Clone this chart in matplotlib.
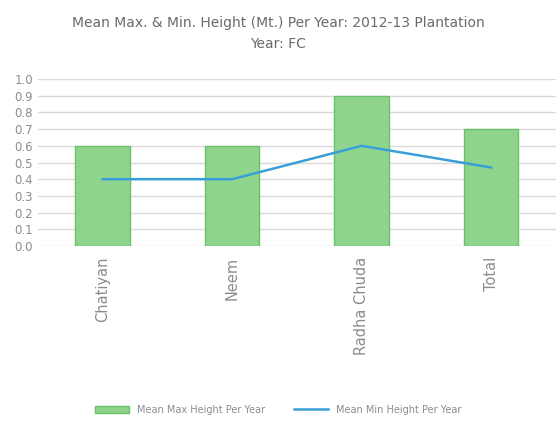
import matplotlib
matplotlib.use("Agg")
import matplotlib.pyplot as plt
from matplotlib.ticker import MultipleLocator, FormatStrFormatter

categories = ["Chatiyan", "Neem", "Radha Chuda", "Total"]
max_height = [0.6, 0.6, 0.9, 0.7]
min_height = [0.4, 0.4, 0.6, 0.47]

fig = plt.figure(figsize=(5.56, 4.21), dpi=100)
ax = fig.add_axes([0.068, 0.416, 0.932, 0.396])

x = list(range(len(categories)))
bars = ax.bar(x, max_height, width=0.42, color="#8fd48c", edgecolor="#6cc06a", linewidth=1.0,
              label="Mean Max Height Per Year", zorder=2)
line, = ax.plot(x, min_height, color="#3a9fd6", linewidth=1.8, label="Mean Min Height Per Year", zorder=3)

ax.set_xlim(-0.5, len(categories) - 0.5)
ax.set_ylim(0, 1.0)
ax.yaxis.set_major_locator(MultipleLocator(0.1))
ax.yaxis.set_major_formatter(FormatStrFormatter("%.1f"))
ax.grid(axis="y", color="#d9d9d9", linewidth=1, zorder=0)
ax.set_axisbelow(True)
for s in ax.spines.values():
    s.set_visible(False)
ax.tick_params(axis="both", length=0, colors="#8c8c8c", labelsize=8.5)
ax.set_xticks(x)
ax.set_xticklabels(categories, rotation=90, fontsize=10.5, color="#8c8c8c")
ax.tick_params(axis="x", pad=8)

fig.text(0.5, 0.962, "Mean Max. & Min. Height (Mt.) Per Year: 2012-13 Plantation\nYear: FC",
         ha="center", va="top", fontsize=10, color="#6a6a6a", linespacing=1.6)

fig.legend([bars, line], ["Mean Max Height Per Year", "Mean Min Height Per Year"],
           loc="center", bbox_to_anchor=(0.5, 0.027), ncol=2, frameon=False,
           fontsize=7, labelcolor="#8c8c8c", handlelength=3.5, columnspacing=3)

fig.savefig("out.png", dpi=100)
